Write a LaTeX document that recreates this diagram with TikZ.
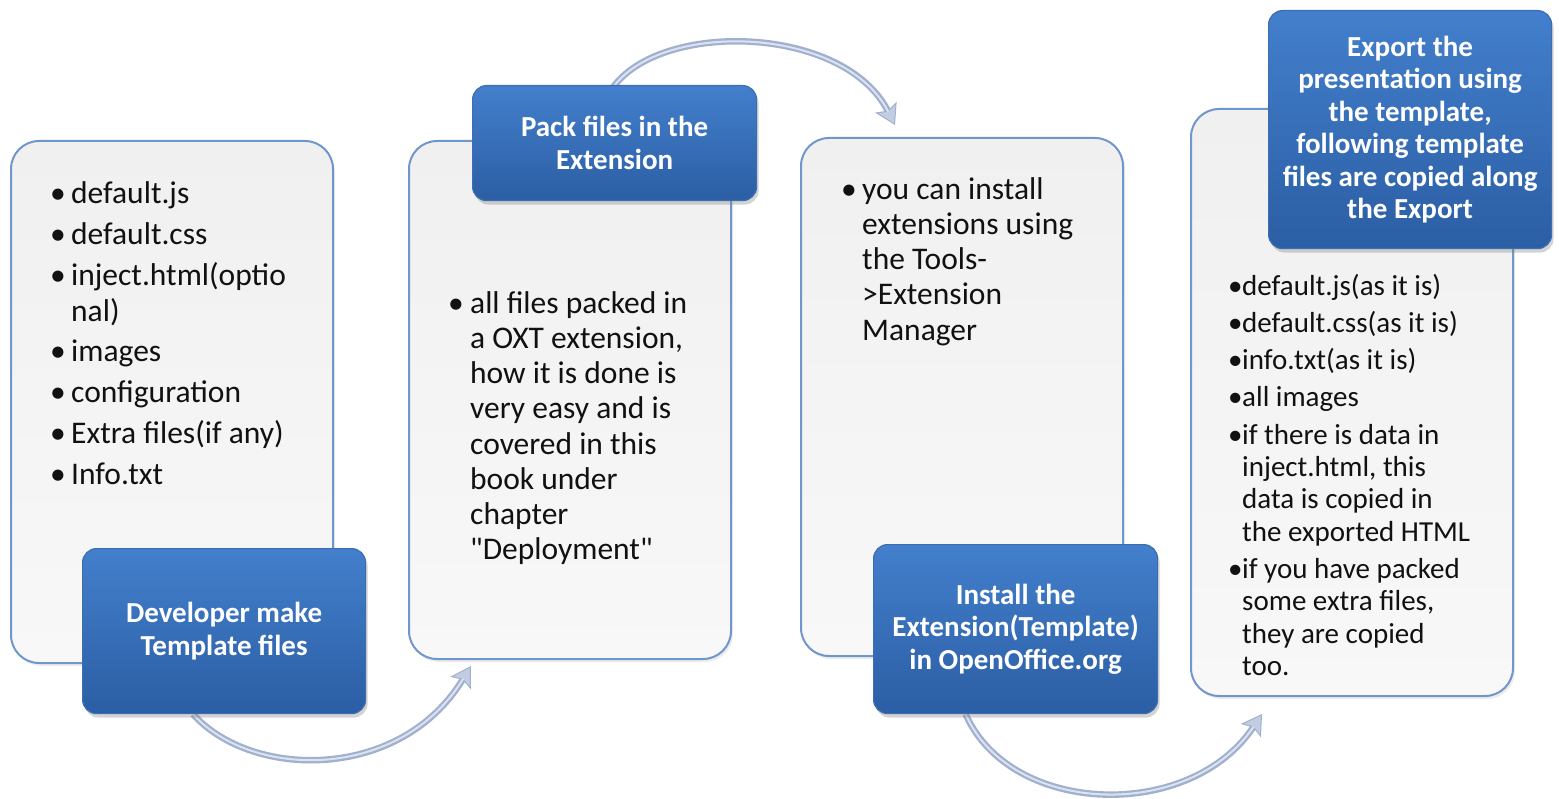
\documentclass[tikz,border=0pt]{standalone}
\usepackage{fontspec}
\setmainfont{Carlito}
\usetikzlibrary{shadows,arrows.meta,calc}
\pgfdeclarelayer{background}
\pgfsetlayers{background,main}
\definecolor{lbord}{HTML}{7096CC}
\definecolor{ltop}{HTML}{F0F0F0}
\definecolor{lbot}{HTML}{F8F8F8}
\definecolor{bbord}{HTML}{3D6EB0}
\definecolor{btop}{HTML}{437FCC}
\definecolor{bbot}{HTML}{2B5EA4}
\definecolor{arrout}{HTML}{A0B0CE}
\definecolor{arrin}{HTML}{DCE3F0}
\definecolor{arrhead}{HTML}{C3CDE2}
\definecolor{txt}{HTML}{111111}
\newlength{\bulw}
\newcommand{\bitem}[1]{\par\hangindent=\bulw\hangafter=1\noindent\makebox[\bulw][l]{\textbullet}#1\par}
\newcommand{\listfont}[2]{\fontsize{#1}{#2}\selectfont\spaceskip=0.226em plus 0.1em minus 0.02em\relax}
\tikzset{
  lightbox/.style={rounded corners=28pt, draw=lbord, line width=2pt, top color=ltop, bottom color=lbot,
    drop shadow={opacity=0.15, shadow xshift=2pt, shadow yshift=-3pt}, inner sep=0pt, anchor=north west},
  bluebox/.style={rounded corners=14pt, draw=bbord, line width=1.2pt, top color=btop, bottom color=bbot,
    drop shadow={opacity=0.35, shadow xshift=2pt, shadow yshift=-4pt}, inner sep=0pt, anchor=north west},
  bluetext/.style={text=white, align=center, font=\fontsize{29pt}{32.5pt}\selectfont\bfseries, inner sep=0pt},
  listtext/.style={text=txt, inner sep=0pt, anchor=north west, text width=#1},
  flowarrow/.style={draw=arrout, line width=6.5pt, -{Stealth[length=20pt,width=24pt,inset=4pt,fill=arrhead,line width=1pt]},
    postaction={draw=arrin, line width=2pt, shorten >=15pt, -}}
}
\begin{document}
\begin{tikzpicture}[x=1pt,y=-1pt]
\useasboundingbox (0,0) rectangle (1559,799);
% boxes
\node[lightbox, minimum width=322pt, minimum height=522pt] (L1) at (10,140) {};
\node[bluebox, minimum width=283pt, minimum height=165pt] (B1) at (82,548) {};
\node[lightbox, minimum width=322pt, minimum height=518pt] (L2) at (408,140) {};
\node[bluebox, minimum width=284pt, minimum height=115pt] (B2) at (472,85) {};
\node[lightbox, minimum width=322pt, minimum height=518pt] (L3) at (800,137) {};
\node[bluebox, minimum width=284pt, minimum height=169pt] (B3) at (873,544) {};
\node[lightbox, minimum width=322pt, minimum height=587pt] (L4) at (1190,108) {};
\node[bluebox, minimum width=283pt, minimum height=238pt] (B4) at (1268,10) {};
% blue box texts
\node[bluetext] (T1) at (B1.center) {Developer make\\Template files};
\node[bluetext] (T2) at (B2.center) {Pack files in the\\Extension};
\node[bluetext] (T3) at (B3.center) {Install the\\Extension(Template)\\in OpenOffice.org};
\node[bluetext] (T4) at (B4.center) {Export the\\presentation using\\the template,\\following template\\files are copied along\\the Export};
% list texts
\node[listtext=290pt] (X1) at (50,162.5) {\listfont{31.5pt}{36pt}\setlength{\bulw}{21pt}\setlength{\parskip}{4.8pt}\raggedright
\bitem{default.js}
\bitem{default.css}
\bitem{inject.html(optio\newline nal)}
\bitem{images}
\bitem{configuration}
\bitem{Extra files(if any)}
\bitem{Info.txt}};
\node[listtext=290pt] (X2) at (448,278) {\listfont{31.5pt}{35.2pt}\setlength{\bulw}{22pt}\raggedright
\bitem{all files packed in\newline a OXT extension,\newline how it is done is\newline very easy and is\newline covered in this\newline book under\newline chapter\newline \textquotedbl Deployment\textquotedbl}};
\node[listtext=290pt] (X3) at (841,164) {\listfont{31.5pt}{35.2pt}\setlength{\bulw}{21pt}\raggedright
\bitem{you can install\newline extensions using\newline the Tools-\newline >Extension\newline Manager}};
\node[listtext=300pt] (X4) at (1228,258) {\listfont{29pt}{32.4pt}\setlength{\bulw}{14pt}\setlength{\parskip}{4.8pt}\raggedright
\bitem{default.js(as it is)}
\bitem{default.css(as it is)}
\bitem{info.txt(as it is)}
\bitem{all images}
\bitem{if there is data in\newline inject.html, this\newline data is copied in\newline the exported HTML}
\bitem{if you have packed\newline some extra files,\newline they are copied\newline too.}};
% arrows
\begin{pgfonlayer}{background}
\draw[flowarrow] ([xshift=-31pt]B1.south) .. controls ([xshift=27pt,yshift=-65pt]B1.south) and ([xshift=-8pt,yshift=-122pt]L2.south west) .. ([xshift=63pt,yshift=-6pt]L2.south west);
\draw[flowarrow] ([xshift=-2pt,yshift=-3pt]B2.north) .. controls ([xshift=46pt,yshift=65pt]B2.north) and ([xshift=44pt,yshift=112pt]L3.north west) .. ([xshift=95pt,yshift=12pt]L3.north west);
\draw[flowarrow] ([xshift=-50pt]B3.south) .. controls ([xshift=-5pt,yshift=-102pt]B3.south) and ([xshift=0pt,yshift=-125pt]L4.south west) .. ([xshift=72pt,yshift=-17pt]L4.south west);
\end{pgfonlayer}
\end{tikzpicture}
\end{document}
